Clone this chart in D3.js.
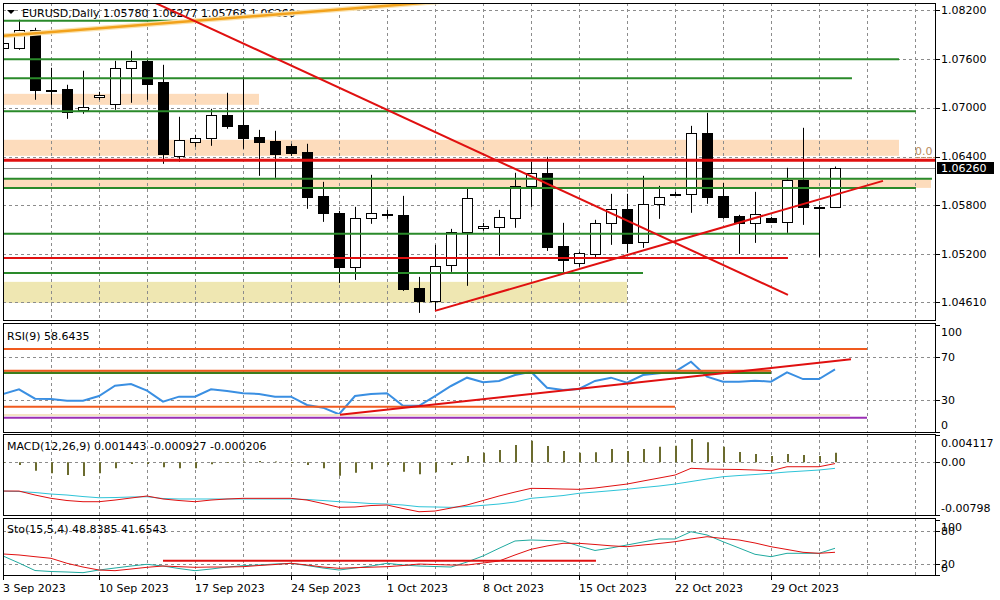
<!DOCTYPE html>
<html>
<head>
<meta charset="utf-8">
<script src="https://cdn.jsdelivr.net/npm/d3@7"></script>
<style>
  body { margin: 0; background: #fff; }
  svg { display: block; font-family: "DejaVu Sans", sans-serif; font-size: 11px; }
</style>
</head>
<body>
<svg id="chart" width="1000" height="600"></svg>
<script>
// ---- data (one entry per daily bar) ----
const weekLabels = ["3 Sep 2023", "10 Sep 2023", "17 Sep 2023", "24 Sep 2023", "1 Oct 2023",
  "8 Oct 2023", "15 Oct 2023", "22 Oct 2023", "29 Oct 2023"];
const weekStarts = [0, 6, 12, 18, 24, 30, 36, 42, 48];

const opens = [
  1.07734, 1.07734, 1.07955, 1.07218, 1.07231, 1.06973, 1.07132, 1.07047, 1.07488, 1.07574,
  1.07317, 1.06408, 1.06580, 1.06629, 1.06911, 1.06789, 1.06641, 1.06592, 1.06531, 1.06457,
  1.05917, 1.05709, 1.05046, 1.05647, 1.05698, 1.05684, 1.04788, 1.04629, 1.05070, 1.05475,
  1.05525, 1.05537, 1.05647, 1.06040, 1.06200, 1.05304, 1.05095, 1.05205, 1.05586, 1.05758,
  1.05353, 1.05819, 1.05942, 1.05942, 1.06691, 1.05917, 1.05672, 1.05586, 1.05647, 1.05598,
  1.06114, 1.05782, 1.05780];
const highs = [
  1.07832, 1.08078, 1.07979, 1.07488, 1.07280, 1.07452, 1.07194, 1.07574, 1.07697, 1.07587,
  1.07525, 1.06887, 1.06666, 1.06985, 1.07182, 1.07378, 1.06727, 1.06715, 1.06556, 1.06556,
  1.06089, 1.05733, 1.05782, 1.06175, 1.05745, 1.05917, 1.04923, 1.05316, 1.05512, 1.06015,
  1.05586, 1.05745, 1.06200, 1.06335, 1.06396, 1.05586, 1.05230, 1.05623, 1.05942, 1.05942,
  1.06163, 1.06040, 1.05966, 1.06776, 1.06936, 1.06077, 1.05684, 1.05966, 1.05660, 1.06261,
  1.06752, 1.05807, 1.06277];
const lows = [
  1.07709, 1.07709, 1.07096, 1.07034, 1.06862, 1.06924, 1.07096, 1.06973, 1.07059, 1.07096,
  1.06310, 1.06335, 1.06519, 1.06531, 1.06740, 1.06494, 1.06163, 1.06138, 1.06408, 1.05758,
  1.05598, 1.04849, 1.04886, 1.05574, 1.05635, 1.04751, 1.04481, 1.04506, 1.04984, 1.04813,
  1.05488, 1.05181, 1.05525, 1.05782, 1.05242, 1.04984, 1.05046, 1.05144, 1.05316, 1.05218,
  1.05279, 1.05635, 1.05930, 1.05709, 1.05819, 1.05635, 1.05205, 1.05340, 1.05586, 1.05463,
  1.05561, 1.05169, 1.05768];
const closes = [
  1.07795, 1.07955, 1.07218, 1.07222, 1.06948, 1.07010, 1.07157, 1.07488, 1.07574, 1.07292,
  1.06433, 1.06605, 1.06629, 1.06911, 1.06776, 1.06629, 1.06580, 1.06433, 1.06445, 1.05905,
  1.05709, 1.05046, 1.05647, 1.05709, 1.05694, 1.04776, 1.04629, 1.05058, 1.05475, 1.05893,
  1.05549, 1.05660, 1.06040, 1.06200, 1.05291, 1.05132, 1.05218, 1.05586, 1.05758, 1.05340,
  1.05819, 1.05905, 1.05938, 1.06691, 1.05905, 1.05660, 1.05586, 1.05696, 1.05598, 1.06114,
  1.05782, 1.05776, 1.06260];
const priceTicks = [1.082, 1.076, 1.070, 1.064, 1.058, 1.052, 1.0461];

const rsiValues = [
  35.6, 40.0, 31.2, 30.9, 29.3, 29.3, 33.7, 43.4, 45.0, 38.7,
  28.4, 33.1, 33.1, 40.0, 38.4, 36.3, 35.6, 33.1, 33.1, 25.3,
  22.8, 16.6, 33.7, 35.6, 36.3, 24.6, 24.6, 33.7, 43.1, 50.9,
  46.6, 47.8, 53.4, 56.5, 41.5, 39.3, 40.3, 47.8, 50.9, 46.2,
  53.4, 55.0, 56.5, 65.9, 51.8, 47.1, 47.1, 48.1, 47.1, 55.9,
  49.6, 49.6, 58.6435];
const rsiTicks = [100, 70, 30, 0];
const rsiGridLevels = [70, 30, 0];

const macdHist = [
  -0.0001, -0.00042, -0.00129, -0.00168, -0.00194, -0.0021, -0.00168, -0.00092, -0.00027, -0.00027,
  -0.00077, -0.00092, -0.00092, -0.00032, -0.0001, 0.0001, 0.0002, 0.0001, -0.0001, -0.00042,
  -0.00092, -0.00204, -0.00159, -0.00107, -0.00042, -0.00144, -0.00183, -0.00153, -0.00042, 0.00094,
  0.00144, 0.00184, 0.0026, 0.00325, 0.00245, 0.00169, 0.00144, 0.0015, 0.002, 0.00169,
  0.002, 0.00234, 0.0025, 0.00351, 0.00301, 0.00234, 0.00154, 0.00124, 0.00094, 0.00124,
  0.00109, 0.00094, 0.001443];
const macdFast = [
  -0.00436, -0.00443, -0.00458, -0.00481, -0.00496, -0.00519, -0.00537, -0.00534, -0.00526, -0.00522,
  -0.00549, -0.00556, -0.00556, -0.00556, -0.00556, -0.00556, -0.00556, -0.00556, -0.00556, -0.00564,
  -0.00579, -0.00597, -0.00609, -0.00625, -0.00632, -0.00647, -0.00673, -0.00677, -0.00682, -0.0067,
  -0.00652, -0.00632, -0.00602, -0.00546, -0.00526, -0.00504, -0.0047, -0.00451, -0.00431, -0.0041,
  -0.00383, -0.0036, -0.0033, -0.00292, -0.00254, -0.00219, -0.00201, -0.00186, -0.00168, -0.00148,
  -0.00133, -0.00118, -0.000927];
const macdSlow = [
  -0.00436, -0.00436, -0.00496, -0.00546, -0.00579, -0.00597, -0.00597, -0.00572, -0.00541, -0.00511,
  -0.00556, -0.00579, -0.00597, -0.00572, -0.00556, -0.00546, -0.00546, -0.00546, -0.00546, -0.00572,
  -0.00625, -0.00682, -0.00677, -0.00655, -0.00647, -0.007, -0.00749, -0.00738, -0.00693, -0.00647,
  -0.00579, -0.00511, -0.00451, -0.00395, -0.00398, -0.00405, -0.0041, -0.0039, -0.0036, -0.0033,
  -0.00284, -0.00239, -0.00194, -0.00092, -0.00103, -0.00107, -0.0011, -0.00118, -0.00129, -0.00068,
  -0.00068, -0.00068, -0.000206];
const macdTicks = [0.004117, 0, -0.00798];

const stoMain = [
  35.0, 22.3, 8.8, 7.0, 6.1, 4.9, 9.7, 13.3, 16.9, 20.0,
  16.9, 12.4, 8.5, 11.5, 15.1, 17.5, 18.7, 20.5, 21.8, 17.8,
  13.3, 9.7, 13.3, 16.9, 21.8, 18.7, 16.9, 16.0, 15.1, 24.1,
  35.0, 48.8, 62.0, 63.8, 62.9, 62.0, 53.0, 44.9, 49.4, 54.8,
  60.2, 65.6, 65.6, 78.7, 72.8, 60.7, 49.4, 38.0, 33.7, 39.8,
  39.8, 39.8, 48.8385];
const stoSignal = [
  38.6, 36.8, 33.7, 30.8, 21.8, 15.1, 9.7, 8.5, 11.5, 14.6,
  16.9, 15.7, 14.6, 15.1, 15.1, 15.7, 17.8, 19.6, 21.8, 18.7,
  15.1, 12.8, 13.9, 14.8, 15.7, 17.8, 20.5, 19.6, 18.7, 18.7,
  22.3, 25.9, 36.8, 47.0, 53.0, 57.8, 57.8, 55.7, 53.3, 51.7,
  54.8, 57.5, 60.7, 65.6, 69.7, 66.5, 63.8, 58.4, 51.7, 46.7,
  41.6, 39.8, 41.6543];
const stoTicks = [100, 80, 20, 0];
const stoGridLevels = [80, 20];

// chart objects: [price, last bar index] / [top, bottom, last bar index]
const greenLevels = [
  [1.08065, 10.9], [1.07593, 56], [1.0736, 53.06], [1.06954, 57.06],
  [1.06126, 58.06], [1.06015, 57.06], [1.05451, 51], [1.04972, 40]];
const redLevels = [[1.06353, 60], [1.05156, 49.06]];
const peachZones = [[1.07169, 1.07034, 16], [1.06605, 1.06408, 56], [1.06126, 1.06015, 58]];
const khakiZones = [[1.04862, 1.04604, 39]];
const orangeTrend = [[-2, 1.0785], [30, 1.08342]];
const redTrends = [
  [[8, 1.08422], [49.06, 1.04702]],
  [[27, 1.04506], [55, 1.06101]]];
const fibLabel = { text: "0.0", index: 58.1, price: 1.0640 };

const rsiOrangeLevels = [[77.8, 54], [57.3, 48], [23.7, 42]];
const rsiGreenLevels = [[55.5, 48]];
const rsiBeigeLevels = [[15.9, 52.94]];
const rsiPurpleLevels = [[13.4, 54]];
const rsiTrend = [[21.06, 16.2], [53, 68.1]];
const stoLevel = [26.5, 10, 37.06];

// ---- layout ----
const plotLeft = 3;
const plotRight = 936;
const panels = {
  main: { top: 3, bottom: 321 },
  rsi: { top: 323, bottom: 433 },
  macd: { top: 434, bottom: 516 },
  sto: { top: 518, bottom: 576 },
};
const crisp = (v) => Math.round(v) + 0.5;
const n = closes.length;
const last = n - 1;
const locale = d3.formatLocale({ decimal: ".", thousands: ",", grouping: [3], currency: ["", ""], minus: "-" });
const f4 = locale.format(".4f");
const f5 = locale.format(".5f");
const f6 = locale.format(".6f");

const x = d3.scaleLinear().domain([0, 58.3125]).range([plotLeft, plotRight]);
const yPrice = d3.scaleLinear().domain([1.052, 1.082]).range([254.3, 9.8]);
const yRsi = d3.scaleLinear().domain([0, 100]).range([432, 325.25]);
const yMacd = d3.scaleLinear().domain([-0.00798, 0.004117]).range([515, 435]);
const ySto = d3.scaleLinear().domain([0, 100]).range([575.4, 519.9]);

const svg = d3.select("#chart");
const defs = svg.append("defs");
Object.entries(panels).forEach(([key, p]) => {
  defs.append("clipPath").attr("id", `clip-${key}`)
    .append("rect")
    .attr("x", plotLeft + 1).attr("y", p.top + 1)
    .attr("width", plotRight - plotLeft - 1).attr("height", p.bottom - p.top - 1);
});

const layer = (key) => svg.append("g").attr("clip-path", `url(#clip-${key})`);
const gridIdx = d3.range(3, 58, 3);
const gridColor = "#8c8c8c";

function vGrid(g, p) {
  g.selectAll(".vgrid").data(gridIdx).join("line")
    .attr("x1", (d) => crisp(x(d))).attr("x2", (d) => crisp(x(d)))
    .attr("y1", p.top).attr("y2", p.bottom)
    .attr("stroke", gridColor).attr("stroke-dasharray", "3,3");
}
function hGrid(g, vals, scale) {
  g.selectAll(".hgrid").data(vals).join("line")
    .attr("x1", plotLeft).attr("x2", plotRight)
    .attr("y1", (d) => crisp(scale(d))).attr("y2", (d) => crisp(scale(d)))
    .attr("stroke", gridColor).attr("stroke-dasharray", "3,3");
}
function levelLines(g, data, scale, color, width, from = -2) {
  g.append("g").selectAll("line").data(data).join("line")
    .attr("x1", x(from)).attr("x2", (d) => x(d[1]))
    .attr("y1", (d) => scale(d[0])).attr("y2", (d) => scale(d[0]))
    .attr("stroke", color).attr("stroke-width", width);
}

// ---- main price panel ----
const main = layer("main");
main.selectAll(".zone-peach").data(peachZones).join("rect")
  .attr("x", x(-2)).attr("y", (d) => yPrice(d[0]))
  .attr("width", (d) => x(d[2]) - x(-2)).attr("height", (d) => yPrice(d[1]) - yPrice(d[0]))
  .attr("fill", "#fddcbc");
main.selectAll(".zone-khaki").data(khakiZones).join("rect")
  .attr("x", x(-2)).attr("y", (d) => yPrice(d[0]))
  .attr("width", (d) => x(d[2]) - x(-2)).attr("height", (d) => yPrice(d[1]) - yPrice(d[0]))
  .attr("fill", "#efe7b2");
vGrid(main, panels.main);
hGrid(main, priceTicks, yPrice);

main.append("line")
  .attr("x1", plotLeft).attr("x2", plotRight)
  .attr("y1", crisp(yPrice(closes[last]))).attr("y2", crisp(yPrice(closes[last])))
  .attr("stroke", "#8a8a8a");

main.append("text")
  .attr("x", 22).attr("y", 16.5).attr("fill", "#000")
  .text(`EURUSD,Daily  ${[opens[last], highs[last], lows[last], closes[last]].map(f5).join(" ")}`);
main.append("path").attr("d", "M7,10L15,10L11,14Z").attr("fill", "#000");

const candle = main.append("g").selectAll("g").data(d3.range(n)).join("g");
candle.append("line")
  .attr("x1", (i) => crisp(x(i))).attr("x2", (i) => crisp(x(i)))
  .attr("y1", (i) => yPrice(highs[i])).attr("y2", (i) => yPrice(lows[i]))
  .attr("stroke", "#000");
candle.append("rect")
  .attr("x", (i) => Math.round(x(i)) - 4.5)
  .attr("width", 10)
  .attr("y", (i) => Math.round(yPrice(Math.max(opens[i], closes[i]))) + 0.5)
  .attr("height", (i) => Math.max(1, Math.round(Math.abs(yPrice(opens[i]) - yPrice(closes[i])))))
  .attr("fill", (i) => (closes[i] >= opens[i] ? "#fff" : "#000"))
  .attr("stroke", "#000");

levelLines(main, greenLevels, yPrice, "#2a8a2a", 2);
levelLines(main, [redLevels[0]], yPrice, "#e01010", 3);
levelLines(main, [redLevels[1]], yPrice, "#e01010", 2);

const priceLine = d3.line().x((d) => x(d[0])).y((d) => yPrice(d[1]));
main.append("path").attr("d", priceLine(orangeTrend))
  .attr("stroke", "#fbe3b0").attr("stroke-width", 5).attr("fill", "none");
main.append("path").attr("d", priceLine(orangeTrend))
  .attr("stroke", "#f2a21c").attr("stroke-width", 2.5).attr("fill", "none");
main.selectAll(".trend-red").data(redTrends).join("path")
  .attr("d", (d) => priceLine(d))
  .attr("stroke", "#e01010").attr("stroke-width", 2).attr("fill", "none");

main.append("line")
  .attr("x1", x(57)).attr("x2", plotRight)
  .attr("y1", crisp(yPrice(fibLabel.price))).attr("y2", crisp(yPrice(fibLabel.price)))
  .attr("stroke", "#c89a6e").attr("stroke-dasharray", "2,1");
main.append("text")
  .attr("x", x(fibLabel.index)).attr("y", yPrice(fibLabel.price) - 1.5)
  .attr("text-anchor", "end").attr("fill", "#b98c5e")
  .text(fibLabel.text);

// ---- RSI panel ----
const rsi = layer("rsi");
vGrid(rsi, panels.rsi);
hGrid(rsi, rsiGridLevels, yRsi);
rsi.append("path")
  .attr("d", d3.line().x((d, i) => x(i)).y((d) => yRsi(d))(rsiValues))
  .attr("stroke", "#3a8fe2").attr("stroke-width", 2).attr("fill", "none");
levelLines(rsi, rsiGreenLevels, yRsi, "#3d7d1c", 2.5);
levelLines(rsi, rsiOrangeLevels, yRsi, "#f05a1e", 2);
levelLines(rsi, rsiBeigeLevels, yRsi, "#f4e4c4", 2);
levelLines(rsi, rsiPurpleLevels, yRsi, "#9a2fb5", 2);
rsi.append("path")
  .attr("d", d3.line().x((d) => x(d[0])).y((d) => yRsi(d[1]))(rsiTrend))
  .attr("stroke", "#e01010").attr("stroke-width", 2).attr("fill", "none");
rsi.append("text").attr("x", 7).attr("y", 339.5)
  .text(`RSI(9) ${f4(rsiValues[last])}`);

// ---- MACD panel ----
const macd = layer("macd");
vGrid(macd, panels.macd);
hGrid(macd, [0], yMacd);
macd.selectAll(".hist").data(macdHist).join("line")
  .attr("x1", (d, i) => Math.round(x(i)) + 1).attr("x2", (d, i) => Math.round(x(i)) + 1)
  .attr("y1", yMacd(0)).attr("y2", (d) => yMacd(d))
  .attr("stroke", "#6b6b2e").attr("stroke-width", 2);
const macdLine = d3.line().x((d, i) => x(i)).y((d) => yMacd(d));
macd.append("path").attr("d", macdLine(macdFast))
  .attr("stroke", "#2ec4d8").attr("stroke-width", 1).attr("fill", "none");
macd.append("path").attr("d", macdLine(macdSlow))
  .attr("stroke", "#e01010").attr("stroke-width", 1).attr("fill", "none");
macd.append("text").attr("x", 7).attr("y", 449.5)
  .text(`MACD(12,26,9) ${f6(macdHist[last])} ${f6(macdFast[last])} ${f6(macdSlow[last])}`);

// ---- Stochastic panel ----
const sto = layer("sto");
vGrid(sto, panels.sto);
hGrid(sto, stoGridLevels, ySto);
const stoLine = d3.line().x((d, i) => x(i)).y((d) => ySto(d));
sto.append("path").attr("d", stoLine(stoMain))
  .attr("stroke", "#20aaa0").attr("stroke-width", 1).attr("fill", "none");
sto.append("path").attr("d", stoLine(stoSignal))
  .attr("stroke", "#e01010").attr("stroke-width", 1).attr("fill", "none");
sto.append("line")
  .attr("x1", x(stoLevel[1])).attr("x2", x(stoLevel[2]))
  .attr("y1", ySto(stoLevel[0])).attr("y2", ySto(stoLevel[0]))
  .attr("stroke", "#e01010").attr("stroke-width", 2);
sto.append("text").attr("x", 7).attr("y", 533)
  .text(`Sto(15,5,4) ${f4(stoMain[last])} ${f4(stoSignal[last])}`);

// ---- frames ----
Object.values(panels).forEach((p) => {
  svg.append("rect")
    .attr("x", plotLeft + 0.5).attr("y", p.top + 0.5)
    .attr("width", plotRight - plotLeft - 1).attr("height", p.bottom - p.top - 1)
    .attr("fill", "none").attr("stroke", "#000");
});

// ---- right axis ----
function rightAxis(vals, scale, fmt, p, clamp) {
  const g = svg.append("g");
  g.selectAll("line").data(vals).join("line")
    .attr("x1", plotRight).attr("x2", plotRight + 4)
    .attr("y1", (d) => crisp(scale(d))).attr("y2", (d) => crisp(scale(d)))
    .attr("stroke", "#000");
  g.selectAll("text").data(vals).join("text")
    .attr("x", plotRight + 5)
    .attr("y", (d) => (clamp ? Math.max(p.top + 9.5, Math.min(p.bottom - 8, scale(d))) : scale(d)))
    .attr("dy", "0.35em")
    .text(fmt);
}
rightAxis(priceTicks, yPrice, f5, panels.main, false);
rightAxis(rsiTicks, yRsi, (d) => d, panels.rsi, true);
rightAxis(macdTicks, yMacd, (d) => (d === 0 ? "0.00" : locale.format("")(d)), panels.macd, true);
rightAxis(stoTicks, ySto, (d) => d, panels.sto, true);

const yClose = yPrice(closes[last]);
svg.append("rect").attr("x", plotRight + 1).attr("y", Math.round(yClose) - 6)
  .attr("width", 57).attr("height", 12).attr("fill", "#000");
svg.append("text").attr("x", plotRight + 5).attr("y", yClose).attr("dy", "0.35em")
  .attr("fill", "#fff").text(f5(closes[last]));

// ---- time axis ----
const timeAxis = svg.append("g");
timeAxis.selectAll("line").data(weekStarts).join("line")
  .attr("x1", (d) => crisp(x(d))).attr("x2", (d) => crisp(x(d)))
  .attr("y1", panels.sto.bottom).attr("y2", panels.sto.bottom + 4)
  .attr("stroke", "#000");
timeAxis.selectAll("text").data(weekStarts).join("text")
  .attr("x", (d) => x(d)).attr("y", 592)
  .text((d, i) => weekLabels[i]);
</script>
</body>
</html>
